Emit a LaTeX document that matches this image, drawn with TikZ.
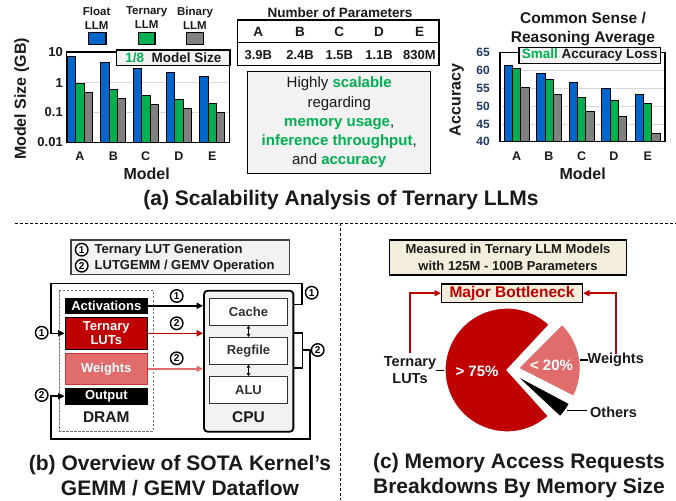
\documentclass[tikz,border=0pt]{standalone}
\usepackage{fontspec}
\setmainfont{Liberation Sans}
\usetikzlibrary{arrows.meta}

\definecolor{fblue}{HTML}{0066CC}
\definecolor{tgreen}{HTML}{00B050}
\definecolor{bgray}{HTML}{808080}
\definecolor{dred}{HTML}{C00000}
\definecolor{lred}{HTML}{E06C6C}
\definecolor{navy}{HTML}{203864}
\definecolor{boxgray}{HTML}{F2F2F2}
\definecolor{beige}{HTML}{F3EEDB}
\definecolor{ink}{HTML}{1A1A1A}
\definecolor{gridc}{HTML}{D9D9D9}

\newcommand{\fsb}[2]{\fontsize{#1}{#2}\selectfont\bfseries}
\newcommand{\fsn}[2]{\fontsize{#1}{#2}\selectfont}

\begin{document}
\begin{tikzpicture}[x=1pt, y=-1pt,
  every node/.style={inner sep=0pt, text=ink},
  barF/.style={fill=fblue, draw=black, line width=0.8pt},
  barT/.style={fill=tgreen, draw=black, line width=0.8pt},
  barB/.style={fill=bgray, draw=black, line width=0.8pt},
  tick/.style={font=\fsb{13}{15}, anchor=east},
  ntick/.style={font=\fsb{12}{14}, text=navy, anchor=east},
  cat/.style={font=\fsb{12.5}{14}},
  axl/.style={font=\fsb{16}{18}},
  leg/.style={font=\fsb{11.5}{14}, align=center},
  caption/.style={font=\fsb{21}{25}, align=center, text=ink},
  num/.style={circle, draw=black, line width=1.4pt, fill=white, minimum size=12.5pt,
              inner sep=0pt, font=\fsb{10}{10}, text=black},
  membox/.style={minimum width=82.7pt, draw=black, line width=0.8pt,
                 font=\fsb{13}{14}, text=white, align=center},
  unit/.style={draw=black!80, fill=white, line width=1pt, minimum width=78.4pt,
               minimum height=26.8pt, font=\fsb{13}{15}, text=ink!90},
  arr/.style={line width=1.6pt, -{Triangle[length=6.5pt,width=6pt]}},
  dbl/.style={line width=0.9pt, {Triangle[length=3pt,width=3.5pt]}-{Triangle[length=3pt,width=3.5pt]}},
  sep/.style={line width=0.9pt, dash pattern=on 3pt off 2pt},
  plbl/.style={font=\fsb{14.5}{17}, align=center},
  lead/.style={line width=1.2pt}
]
\useasboundingbox (0,0) rectangle (676,500);
\fill[white] (0,0) rectangle (676,500);

% ---------------- (a) model size chart (log scale) ----------------
\node[leg] (lgF) at (96.7,18) {Float\\LLM};
\node[leg] (lgT) at (146.7,18) {Ternary\\LLM};
\node[leg] (lgB) at (195,18) {Binary\\LLM};
\draw[barF, line width=1.3pt] (88.3,32.3) rectangle (106,44.3);
\draw[barT, line width=1.3pt] (138.3,32.3) rectangle (155,44.3);
\draw[barB, line width=1.3pt] (186.7,32.3) rectangle (203.3,44.3);

\draw[gridc, line width=0.7pt] (66.7,82.7) -- (229.3,82.7) (66.7,112.3) -- (229.3,112.3);
\foreach \c/\f/\t/\b in {80/56/83/92, 113.3/62/89/98, 145.7/68/95/104, 179/72/99/108, 212.3/76/103/112}{
  \draw[barF] ({\c-12.5},142.3) rectangle ({\c-4.2},\f);
  \draw[barT] ({\c-4.2},142.3) rectangle ({\c+4.2},\t);
  \draw[barB] ({\c+4.2},142.3) rectangle ({\c+12.5},\b);
}
\draw[line width=1.1pt] (66.7,52) rectangle (229.3,142.3);
\node[tick] (t10) at (63,52.3) {10};
\node[tick] (t1) at (63,82.7) {1};
\node[tick] (t01) at (63,112.3) {0.1};
\node[tick] (t001) at (63,142.3) {0.01};
\foreach \c/\n in {80/A, 113.3/B, 145.7/C, 179/D, 212.3/E}
  \node[cat] (la-\n) at (\c,156) {\n};
\node[axl, rotate=90] (ylA) at (21.7,99) {Model Size (GB)};
\node[axl] (xlA) at (146.7,173.3) {Model};
\node[draw=black, fill=boxgray, line width=1.1pt, minimum width=113.3pt, minimum height=15.3pt,
      font=\fsb{13.5}{15}] (eighth) at (173.3,57.7) {\textcolor{tgreen}{1/8}\hspace{0.55em}Model Size};

% ---------------- (a) parameter table ----------------
\node[font=\fsb{13.5}{15}] (partitle) at (340,12.7) {Number of Parameters};
\draw[line width=1.4pt] (237.3,20) rectangle (439,65.7);
\draw[line width=1.4pt] (237.3,42.7) -- (439,42.7);
\foreach \c/\n/\v in {258.3/A/3.9B, 300/B/2.4B, 339.3/C/1.5B, 379/D/1.1B, 419.5/E/830M}{
  \node[font=\fsb{13.5}{15}] (pn-\n) at (\c,31.7) {\n};
  \node[font=\fsb{13}{15}] (pv-\n) at (\c,55) {\v};
}

% ---------------- (a) summary box ----------------
\node[draw=black, fill=boxgray, line width=1.4pt, minimum width=183pt, minimum height=101.6pt,
      font=\fsn{15}{19.2}, align=center] (summary) at (339.2,122.5)
  {Highly \textbf{\textcolor{tgreen}{scalable}}\\regarding\\
   \textbf{\textcolor{tgreen}{memory usage}},\\
   \textbf{\textcolor{tgreen}{inference throughput}},\\
   and \textbf{\textcolor{tgreen}{accuracy}}};

% ---------------- (a) accuracy chart ----------------
\node[font=\fsb{15.5}{19}, align=center] (accTitle) at (583,29.5) {Common Sense /\\Reasoning Average};
\draw[gridc, line width=0.7pt] (500,70) -- (665,70) (500,88.3) -- (665,88.3)
      (500,106) -- (665,106) (500,124) -- (665,124);
\foreach \c/\f/\t/\b in {516.7/61.3/60.6/55.2, 549/59.2/57.3/53.1, 581.7/56.6/52.5/48.6,
                         614/54.9/51.6/47.1, 647.7/53.3/50.7/42.3}{
  \draw[barF] ({\c-12.4},141.7) rectangle ({\c-4},{141.7-3.576*(\f-40)});
  \draw[barT] ({\c-4},141.7) rectangle ({\c+4},{141.7-3.576*(\t-40)});
  \draw[barB] ({\c+4},141.7) rectangle ({\c+12.3},{141.7-3.576*(\b-40)});
}
\draw[line width=1.1pt] (500,52.3) rectangle (665,141.7);
\foreach \v/\y in {65/52.3, 60/70, 55/88.3, 50/106, 45/124, 40/141.7}
  \node[ntick] (acc-\v) at (490,\y) {\v};
\foreach \c/\n in {516.7/A, 549/B, 581.7/C, 614/D, 647.7/E}
  \node[cat] (lr-\n) at (\c,155.7) {\n};
\node[axl, rotate=90] (ylR) at (456.7,100) {Accuracy};
\node[axl] (xlR) at (582.7,173.3) {Model};
\node[draw=black, fill=boxgray, line width=1.1pt, minimum width=141.7pt, minimum height=15.6pt,
      font=\fsb{13.5}{15}] (smallLoss) at (589.8,55.5) {\textcolor{tgreen}{Small} Accuracy Loss};

\node[caption] (capA) at (341,200) {(a) Scalability Analysis of Ternary LLMs};

% ---------------- separators ----------------
\draw[sep] (15,223.3) -- (676,223.3);
\draw[sep] (340,223.3) -- (340,500);

% ---------------- (b) dataflow ----------------
\node[draw=black!75, fill=boxgray, line width=1.2pt, minimum width=218.3pt, minimum height=34.3pt] (legB) at (180.2,257.2) {};
\node[num] (lg1) at (81.7,249.7) {1};
\node[num] (lg2) at (81.7,265.7) {2};
\node[font=\fsb{13}{15}, anchor=west] (lg1t) at (94.5,249.7) {Ternary LUT Generation};
\node[font=\fsb{13}{15}, anchor=west] (lg2t) at (94.5,265.7) {LUTGEMM / GEMV Operation};

% DRAM
\draw[draw=black!55, line width=1pt, dash pattern=on 2.5pt off 1.5pt] (59.3,290) rectangle (153.3,431);
\node[membox, fill=black, minimum height=15pt] (act) at (106.3,305.8) {Activations};
\node[membox, fill=dred, minimum height=31.3pt, font=\fsb{13}{13.5}] (luts) at (106.3,333.3) {Ternary\\LUTs};
\node[membox, fill=lred, draw=dred!80, minimum height=31pt] (wts) at (106.3,368.8) {Weights};
\node[membox, fill=black, minimum height=15.7pt] (outp) at (106.3,396.2) {Output};
\node[font=\fsb{15.5}{18}] (dramL) at (106.3,416.7) {DRAM};

% CPU
\node[draw=black, fill=boxgray, line width=1.8pt, rounded corners=3.5pt,
      minimum width=89.3pt, minimum height=141pt] (cpu) at (248.7,361.2) {};
\node[unit] (cache) at (248.5,311.7) {Cache};
\node[unit] (regf) at (248.5,350.8) {Regfile};
\node[unit] (alu) at (248.5,390) {ALU};
\node[font=\fsb{15.5}{18}] (cpuL) at (248.5,416.7) {CPU};
\draw[dbl] (cache) -- (regf);
\draw[dbl] (regf) -- (alu);

% memory to CPU
\draw[arr] (act) -- (act -| cpu.west);
\draw[arr, dred] (luts) -- (luts -| cpu.west);
\draw[arr, lred] (wts) -- (wts -| cpu.west);
\node[num] (n1a) at (176.7,296) {1};
\node[num] (n2a) at (176.7,323.3) {2};
\node[num] (n2b) at (176.7,358.3) {2};

% LUT generation loop
\draw[arr] ([yshift=56.9pt]cpu.east) -- (301.7,304.3) -- (301.7,283.3) -- (51,283.3) |- (luts.west);
\node[num] (n1r) at (311.7,292.7) {1};
\node[num] (n1l) at (41.7,332.7) {1};

% GEMM/GEMV loop
\draw[line width=1.6pt] ([yshift=28.5pt]cpu.east) -- (302.3,332.7) -- (302.3,367.7) -- ([yshift=-6.5pt]cpu.east);
\node[num] (n2r) at (317.7,350) {2};
\draw[line width=1.6pt] (302.3,350) -- (n2r.west);
\draw[arr] (310,350) -- (310,439) -- (51,439) |- (outp.west);
\node[num] (n2l) at (41.7,395) {2};

\node[caption] (capB) at (180,475.5) {(b) Overview of SOTA Kernel’s\\GEMM / GEMV Dataflow};

% ---------------- (c) memory access breakdown ----------------
\node[draw=black, fill=beige, line width=1.4pt, minimum width=237.4pt, minimum height=35pt,
      font=\fsb{13}{16.4}, align=center] (meas) at (508,257.5)
  {Measured in Ternary LLM Models\\with 125M - 100B Parameters};
\node[draw=black, fill=beige, line width=1.4pt, minimum width=140.6pt, minimum height=18.3pt,
      font=\fsb{15.5}{18}, text=dred] (bott) at (512,293.2) {Major Bottleneck};

% pie chart
\begin{scope}[shift={(507,370)}, y=1pt]
  \filldraw[fill=dred, draw=white, line width=1.2pt]
    (0,0) -- (47:62pt) arc[start angle=47, end angle=312, radius=62pt] -- cycle;
  \begin{scope}[shift={(9:11.5pt)}]
    \filldraw[fill=lred, draw=white, line width=1.2pt]
      (0,0) -- (-27:62pt) arc[start angle=-27, end angle=45, radius=62pt] -- cycle;
  \end{scope}
  \begin{scope}[shift={(-30:9pt)}]
    \filldraw[fill=black, draw=white, line width=1.2pt]
      (0,0) -- (-43:62pt) arc[start angle=-43, end angle=-28, radius=62pt] -- cycle;
  \end{scope}
\end{scope}
\node[font=\fsb{15}{17}, text=white] (p75) at (477,371) {> 75\%};
\node[font=\fsb{15}{17}, text=white] (p20) at (551.5,365) {< 20\%};

\node[plbl] (tl) at (410,370.5) {Ternary\\LUTs};
\node[plbl, anchor=west] (wl) at (587.5,360) {Weights};
\node[plbl, anchor=west] (ol) at (590,412) {Others};
\draw[lead] (tl.east) -- ++(8,0);
\draw[lead] (579.5,360) -- (wl.west);
\draw[lead] (566.7,410.7) -- (587,410.7);

\coordinate (tlTop) at (410,353.3);
\coordinate (wlTop) at (616,353.5);
\draw[arr, dred] (tlTop) |- (bott.west);
\draw[arr, dred] (wlTop) |- (bott.east);

\node[caption] (capC) at (519,475.5) {(c) Memory Access Requests\\Breakdowns By Memory Size};
\end{tikzpicture}
\end{document}
